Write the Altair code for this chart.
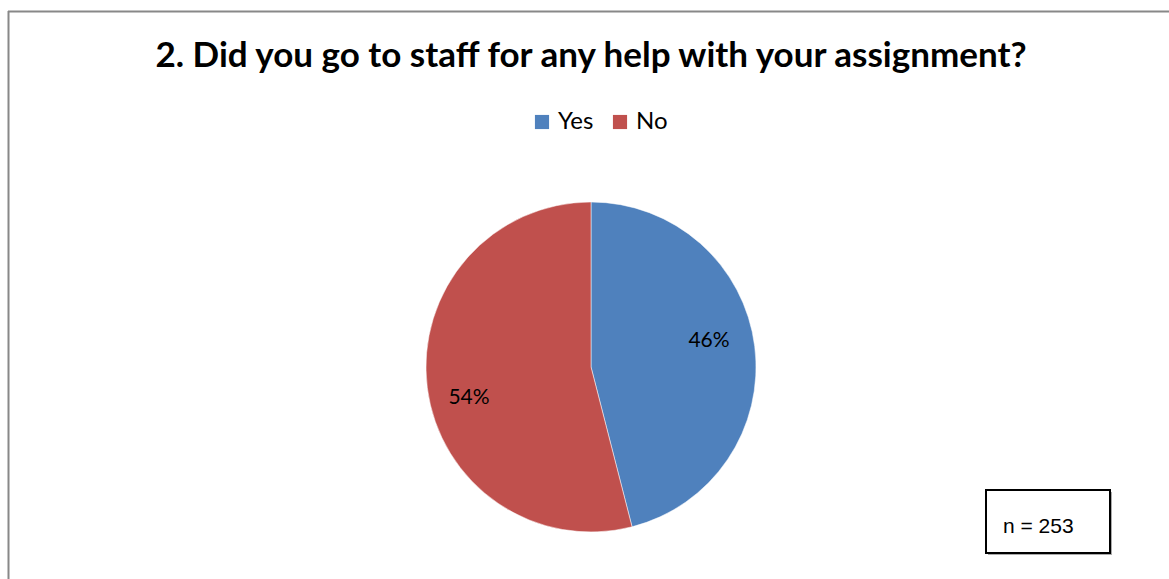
import altair as alt
import pandas as pd

categories = ["Yes", "No"]
values = [46, 54]
labels = ["46%", "54%"]
colors = ["#4F81BD", "#C0504D"]
title_text = "2. Did you go to staff for any help with your assignment?"
note_text = "n = 253"

df = pd.DataFrame({"answer": categories, "value": values, "label": labels, "order": [0, 1]})

W, H = 1169, 579
CX, CY = 591, 367

pie = alt.Chart(df).mark_arc(outerRadius=165, stroke="white", strokeWidth=0.5).encode(
    theta=alt.Theta("value:Q", stack=True),
    order=alt.Order("order:Q"),
    color=alt.Color(
        "answer:N",
        scale=alt.Scale(domain=categories, range=colors),
        sort=categories,
        legend=alt.Legend(
            title=None,
            orient="none",
            legendX=530,
            legendY=110,
            direction="horizontal",
            symbolType="square",
            symbolSize=200,
            symbolStrokeWidth=0,
            labelFontSize=24,
            labelFont="Lato",
            labelColor="black",
            columnPadding=14,
            symbolOffset=0,
        ),
    ),
    x=alt.value(CX),
    y=alt.value(CY),
)

lab_base = alt.Chart(df).transform_stack(
    stack="value", groupby=[], as_=["v0", "v1"], sort=[alt.SortField("order")]
).transform_joinaggregate(total="sum(value)").transform_calculate(
    mid="(datum.v0 + datum.v1) / 2 / datum.total"
)

def label_layer(name, dx, dy):
    return lab_base.transform_filter(alt.datum.answer == name).mark_text(
        radius=123, fontSize=21, font="Lato", color="black", dx=dx, dy=dy
    ).encode(
        theta=alt.Theta("mid:Q", stack=None, scale=alt.Scale(domain=[0, 1])),
        text="label:N",
        x=alt.value(CX),
        y=alt.value(CY),
    )

text_yes = label_layer("Yes", -4, -11)
text_no = label_layer("No", 0, 16)

one = pd.DataFrame({"t": [title_text], "n": [note_text]})

title = alt.Chart(one).mark_text(
    fontSize=35, font="Lato", fontWeight="bold", color="black", align="center", baseline="middle"
).encode(text="t:N", x=alt.value(591), y=alt.value(56))

border_top = alt.Chart(one).mark_rule(color="#888888", strokeWidth=2).encode(
    x=alt.value(8), x2=alt.value(W), y=alt.value(11.5)
)
border_left = alt.Chart(one).mark_rule(color="#888888", strokeWidth=2).encode(
    x=alt.value(8.5), y=alt.value(11), y2=alt.value(H)
)

shadow = alt.Chart(one).mark_rect(fill="#aaaaaa").encode(
    x=alt.value(988), x2=alt.value(1112), y=alt.value(492), y2=alt.value(555)
)
box = alt.Chart(one).mark_rect(fill="white", stroke="black", strokeWidth=2).encode(
    x=alt.value(986), x2=alt.value(1110), y=alt.value(490), y2=alt.value(553)
)
note = alt.Chart(one).mark_text(
    fontSize=21, font="Liberation Sans", color="black", align="left", baseline="middle"
).encode(text="n:N", x=alt.value(1003), y=alt.value(527))

chart = alt.layer(
    border_top, border_left, title, pie, text_yes, text_no, shadow, box, note
).resolve_scale(theta="independent").properties(
    width=W, height=H, autosize=alt.AutoSizeParams(type="none"), padding=0, background="white"
).configure_view(stroke=None)

chart.save("out.html", embed_options={"renderer": "svg", "actions": False})
